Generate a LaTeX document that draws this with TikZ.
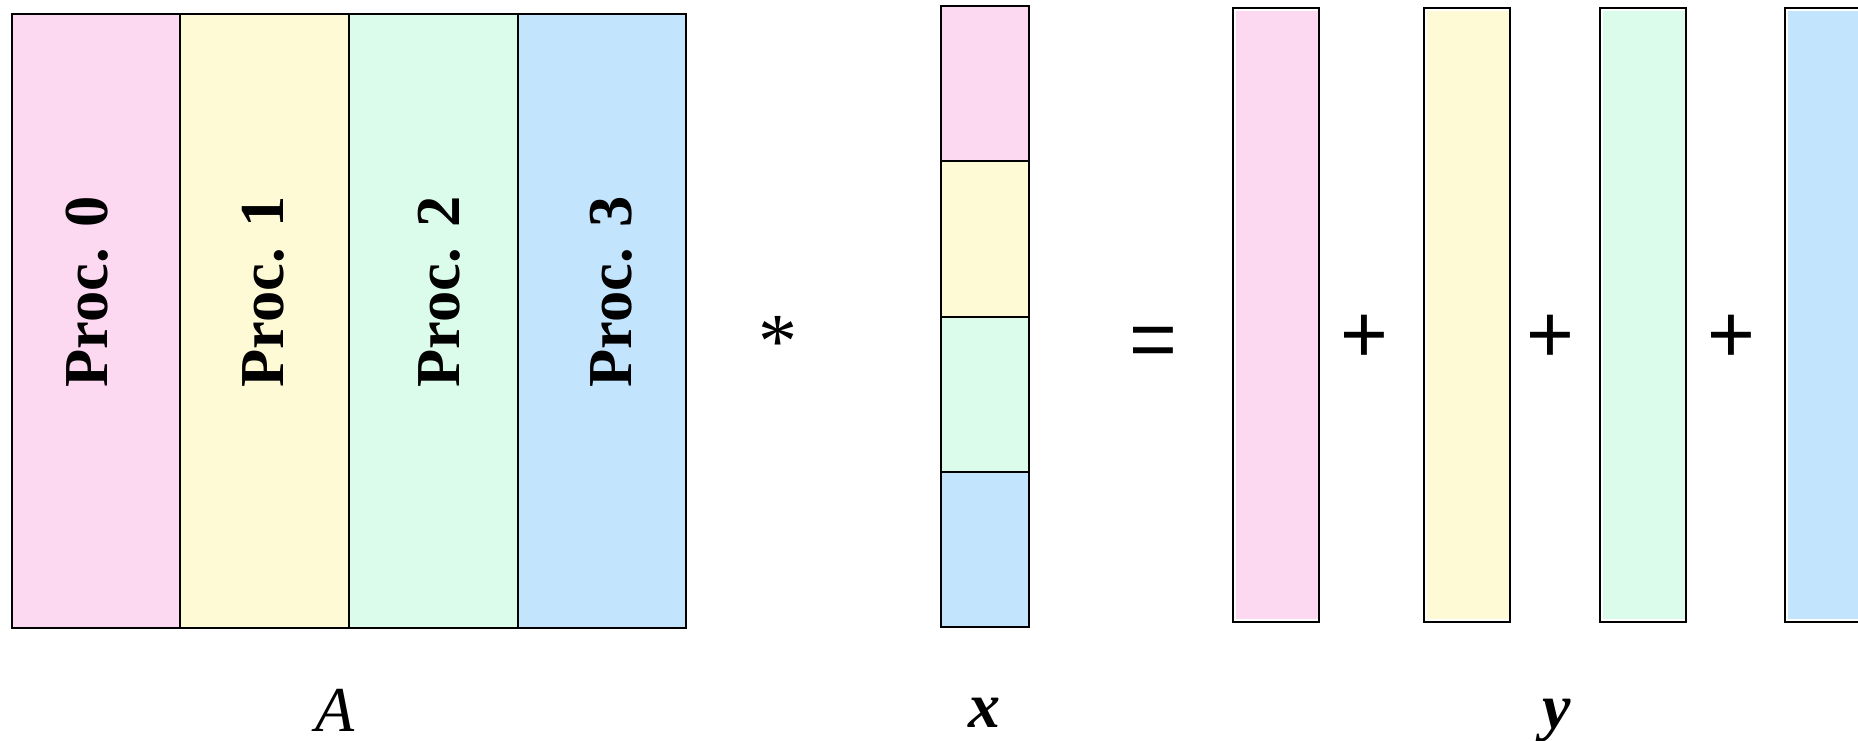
\documentclass[tikz,border=0pt]{standalone}
\usepackage{fontspec}
\setmainfont{Liberation Serif}
\newfontfamily\opfont{Liberation Sans}
\definecolor{cpink}{HTML}{FDD8F1}
\definecolor{cyellow}{HTML}{FEFAD6}
\definecolor{cgreen}{HTML}{DCFCEB}
\definecolor{cblue}{HTML}{C3E4FD}
\tikzset{
  box/.style={draw=black, line width=2pt},
  proclabel/.style={font=\fontsize{62.5}{70}\selectfont\bfseries, inner sep=0pt, anchor=base, rotate=90},
  oplabel/.style={font=\opfont\fontsize{82}{84}\selectfont, inner sep=0pt},
  starlabel/.style={font=\fontsize{78}{80}\selectfont, inner sep=0pt},
  veclabel/.style={font=\fontsize{64}{70}\selectfont, inner sep=0pt, anchor=base},
}
\begin{document}
\begin{tikzpicture}[x=1pt,y=-1pt]
\useasboundingbox (0,0) rectangle (1858,740);
\clip (0,0) rectangle (1858,740);
% Matrix A
\fill[cpink] (11.7,14) rectangle (180.4,628);
\fill[cyellow] (180.4,14) rectangle (349,628);
\fill[cgreen] (349,14) rectangle (518,628);
\fill[cblue] (518,14) rectangle (686,628);
\draw[box] (11.7,14) rectangle (686,628);
\draw[box] (180.4,14) -- (180.4,628);
\draw[box] (349,14) -- (349,628);
\draw[box] (518,14) -- (518,628);
\node[proclabel] (p0) at (107,292) {Proc. 0};
\node[proclabel] (p1) at (283,292) {Proc. 1};
\node[proclabel] (p2) at (459,292) {Proc. 2};
\node[proclabel] (p3) at (631.5,292) {Proc. 3};
\node[veclabel] (lA) at (335,731) {\itshape A};
% operator *
\node[starlabel] (star) at (778,342) {*};
% vector x
\fill[cpink] (940.7,6) rectangle (1028.7,161.3);
\fill[cyellow] (940.7,161.3) rectangle (1028.7,316.5);
\fill[cgreen] (940.7,316.5) rectangle (1028.7,471.8);
\fill[cblue] (940.7,471.8) rectangle (1028.7,627);
\draw[box] (940.7,6) rectangle (1028.7,627);
\draw[box] (940.7,161.3) -- (1028.7,161.3);
\draw[box] (940.7,316.5) -- (1028.7,316.5);
\draw[box] (940.7,471.8) -- (1028.7,471.8);
\node[veclabel] (lx) at (984,727) {\bfseries\itshape x};
% equals
\node[oplabel] (eq) at (1153,347) {=};
% y partial vectors
\fill[cpink] (1235.7,11.3) rectangle (1319,618.7);
\draw[box] (1232.7,8.3) rectangle (1319,621.7);
\node[oplabel] (plus1) at (1364.7,339) {+};
\fill[cyellow] (1427,11.3) rectangle (1510,618.7);
\draw[box] (1424,8.3) rectangle (1510,621.7);
\node[oplabel] (plus2) at (1550.7,339) {+};
\fill[cgreen] (1603,11.3) rectangle (1686,618.7);
\draw[box] (1600,8.3) rectangle (1686,621.7);
\node[oplabel] (plus3) at (1731,339) {+};
\fill[cblue] (1787.7,11.3) rectangle (1871,618.7);
\draw[box] (1784.7,8.3) rectangle (1871,621.7);
\node[veclabel] (ly) at (1557,728) {\bfseries\itshape y};
\end{tikzpicture}
\end{document}
